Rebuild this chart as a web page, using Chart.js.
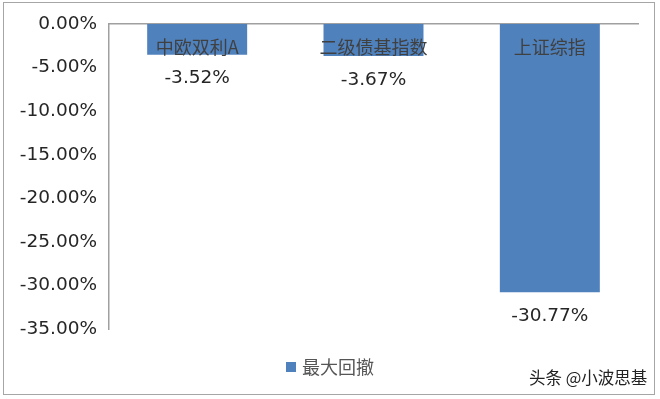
<!DOCTYPE html>
<html><head><meta charset="utf-8">
<script src="https://cdn.jsdelivr.net/npm/chart.js@4/dist/chart.umd.min.js"></script>
<style>
html,body{margin:0;padding:0;background:#fff;}
#wrap{position:relative;width:660px;height:399px;}
#frame{position:absolute;left:3px;top:2px;width:650px;height:391px;border:1.5px solid #a6a6a6;pointer-events:none;}
#wm{position:absolute;left:529px;top:365px;font:16.5px "Noto Sans CJK SC";color:#222;white-space:nowrap;}
</style></head>
<body>
<div id="wrap">
<canvas id="c" width="660" height="399"></canvas>
<div id="frame"></div>
<div id="wm">头条 @小波思基</div>
</div>
<script>
const categories = ["中欧双利A", "二级债基指数", "上证综指"];
const seriesName = "最大回撤";
const values = [-3.52, -3.67, -30.77];
const yTicks = [0, -5, -10, -15, -20, -25, -30, -35];

const barColor = "#4F81BD";
const fmt = v => v.toFixed(2) + "%";

const labelPlugin = {
  id: "labels",
  afterDatasetsDraw(chart) {
    const ctx = chart.ctx;
    const xs = chart.scales.x, ys = chart.scales.y;
    ctx.save();
    // category labels just under the zero line
    ctx.font = '18px "Noto Sans CJK SC"';
    ctx.fillStyle = "#404040";
    ctx.textAlign = "center";
    ctx.textBaseline = "middle";
    categories.forEach((c, i) => {
      ctx.fillText(c, xs.getPixelForValue(i), ys.getPixelForValue(0) + 23);
    });
    // value labels under the bars
    ctx.font = '18.5px "DejaVu Sans"';
    ctx.fillStyle = "#262626";
    const meta = chart.getDatasetMeta(0);
    meta.data.forEach((bar, i) => {
      ctx.fillText(fmt(values[i]), bar.x, bar.y + 24);
    });
    // legend
    ctx.font = '18px "Noto Sans CJK SC"';
    const tw = ctx.measureText(seriesName).width;
    const total = 10 + 6 + tw;
    const lx = chart.width / 2 - total / 2;
    const ly = 367;
    ctx.fillStyle = barColor;
    ctx.fillRect(lx, ly - 5, 10, 10);
    ctx.fillStyle = "#555";
    ctx.textAlign = "left";
    ctx.fillText(seriesName, lx + 16, ly);
    ctx.restore();
  }
};

new Chart(document.getElementById("c"), {
  type: "bar",
  data: {
    labels: categories,
    datasets: [{ label: seriesName, data: values, backgroundColor: barColor,
      categoryPercentage: 1.0, barPercentage: 0.567 }]
  },
  options: {
    responsive: false,
    animation: false,
    layout: { padding: { top: 24, right: 22, bottom: 70, left: 0 } },
    plugins: { legend: { display: false }, tooltip: { enabled: false } },
    scales: {
      x: {
        position: "top",
        grid: { display: false, drawTicks: false },
        ticks: { display: false },
        border: { display: true, color: "#a0a0a0", width: 1.5 }
      },
      y: {
        min: -35, max: 0,
        afterFit(s) { s.width = 109; },
        afterBuildTicks(s) { s.ticks = yTicks.map(v => ({ value: v })); },
        grid: { display: false, drawTicks: false },
        border: { display: true, color: "#a0a0a0", width: 1.5 },
        ticks: {
          padding: 12,
          color: "#262626",
          font: { family: "DejaVu Sans", size: 18.5 },
          callback: v => fmt(v)
        }
      }
    }
  },
  plugins: [labelPlugin]
});
</script>
</body></html>
